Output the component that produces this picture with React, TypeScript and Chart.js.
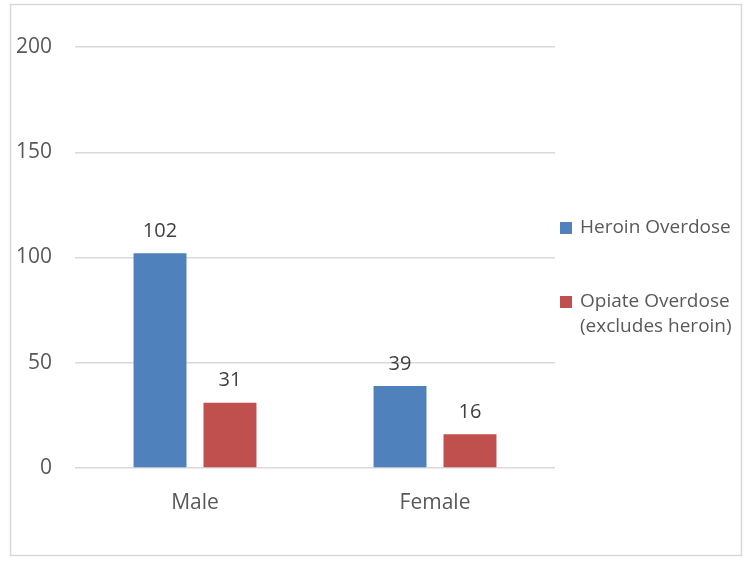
import React, { useEffect, useRef } from "react";
import { Chart, registerables } from "chart.js";

Chart.register(...registerables);

const categories = ["Male", "Female"];
const seriesNames = ["Heroin Overdose", "Opiate Overdose (excludes heroin)"];
const legendLines = [["Heroin Overdose"], ["Opiate Overdose", "(excludes heroin)"]];
const heroinValues = [102, 39];
const opiateValues = [31, 16];
const seriesColors = ["#4F81BD", "#C0504D"];
const yTicks = [0, 50, 100, 150, 200];

const FONT = "'Open Sans', 'Noto Sans', sans-serif";
const TEXT = "#595959";

const framePlugin = {
  id: "frame",
  beforeDraw(chart: any) {
    const ctx = chart.ctx;
    ctx.save();
    ctx.fillStyle = "#ffffff";
    ctx.fillRect(0, 0, chart.width, chart.height);
    ctx.strokeStyle = "#d9d9d9";
    ctx.lineWidth = 1.5;
    ctx.strokeRect(10.5, 4.5, 731, 551);
    ctx.restore();
  },
};

const labelsPlugin = {
  id: "barLabels",
  afterDatasetsDraw(chart: any) {
    const ctx = chart.ctx;
    ctx.save();
    ctx.font = `20px ${FONT}`;
    ctx.fillStyle = "#404040";
    ctx.textAlign = "center";
    ctx.textBaseline = "middle";
    chart.data.datasets.forEach((ds: any, i: number) => {
      const meta = chart.getDatasetMeta(i);
      meta.data.forEach((bar: any, j: number) => {
        ctx.fillText(String(ds.data[j]), bar.x, bar.y - 22);
      });
    });
    ctx.restore();
  },
};

const legendPlugin = {
  id: "customLegend",
  afterDraw(chart: any) {
    const ctx = chart.ctx;
    ctx.save();
    ctx.font = `19px ${FONT}`;
    ctx.textBaseline = "middle";
    ctx.textAlign = "left";
    const starts = [228, 302];
    legendLines.forEach((lines, i) => {
      const y = starts[i];
      ctx.fillStyle = seriesColors[i];
      ctx.fillRect(560, y - 6, 12, 12);
      ctx.fillStyle = TEXT;
      lines.forEach((t, k) => ctx.fillText(t, 580, y + k * 25));
    });
    ctx.restore();
  },
};

export default function App() {
  const ref = useRef<HTMLCanvasElement>(null);
  useEffect(() => {
    document.body.style.margin = "0";
    const chart = new Chart(ref.current!, {
      type: "bar",
      data: {
        labels: categories,
        datasets: [
          { label: seriesNames[0], data: heroinValues, backgroundColor: seriesColors[0] },
          { label: seriesNames[1], data: opiateValues, backgroundColor: seriesColors[1] },
        ],
      },
      options: {
        animation: false,
        responsive: false,
        maintainAspectRatio: false,
        layout: { padding: { top: 47, right: 196, left: 0, bottom: 0 } },
        datasets: { bar: { categoryPercentage: 0.583, barPercentage: 0.757 } },
        plugins: { legend: { display: false }, tooltip: { enabled: false } },
        scales: {
          x: {
            grid: { display: false },
            border: { display: false },
            ticks: { color: TEXT, font: { family: FONT, size: 21 }, padding: 14 },
            afterFit: (s: any) => { s.height = 93; },
          },
          y: {
            min: 0,
            max: 200,
            afterBuildTicks: (s: any) => { s.ticks = yTicks.map((v) => ({ value: v })); },
            grid: { color: "#d9d9d9", lineWidth: 1.5, drawTicks: false },
            border: { display: false },
            ticks: { color: TEXT, font: { family: FONT, size: 21 }, padding: 23 },
            afterFit: (s: any) => { s.width = 75; },
          },
        },
      },
      plugins: [framePlugin, labelsPlugin, legendPlugin],
    });
    return () => chart.destroy();
  }, []);
  return (
    <div style={{ position: "absolute", left: 0, top: 0, width: 751, height: 561 }}>
      <canvas ref={ref} width={751} height={561} style={{ width: 751, height: 561 }} />
    </div>
  );
}
